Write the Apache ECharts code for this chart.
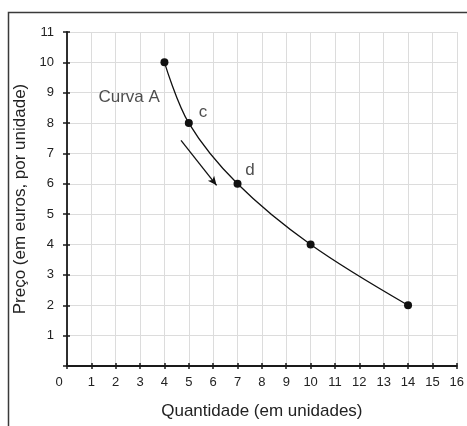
<!DOCTYPE html>
<html><head><meta charset="utf-8">
<script src="https://cdn.jsdelivr.net/npm/echarts@6/dist/echarts.min.js"></script>
<style>html,body{margin:0;padding:0;background:#fff}#c{width:467px;height:426px}</style>
</head><body><div id="c"></div>
<script>
const quantidade = [4, 5, 7, 10, 14];
const preco = [10, 8, 6, 4, 2];
const pointLabels = [
  {text: 'Curva A', x: 2.55, y: 8.85},
  {text: 'c', x: 5.58, y: 8.36},
  {text: 'd', x: 7.51, y: 6.45}
];
const arrowFrom = [4.68, 7.43];
const arrowTo = [6.14, 5.95];
const xTitle = 'Quantidade (em unidades)';
const yTitle = 'Preço (em euros, por unidade)';
const xMin = 0, xMax = 16, yMin = 0, yMax = 11;

const font = 'Liberation Sans, Arial, sans-serif';
const axisColor = '#1a1a1a';
const textColor = '#222';
const chart = echarts.init(document.getElementById('c'));
const baseX = {type: 'value', min: xMin, max: xMax, interval: 1, position: 'bottom'};
const baseY = {type: 'value', min: yMin, max: yMax, interval: 1, position: 'left'};
chart.setOption({
  animation: false,
  graphic: [{type: 'rect', shape: {x: 8.5, y: 12.5, width: 470, height: 430},
    style: {fill: 'none', stroke: '#3a3a3a', lineWidth: 1.5}, z: -1}],
  grid: {left: 67, right: 10, top: 32, bottom: 60},
  xAxis: [Object.assign({}, baseX, {
    name: xTitle, nameLocation: 'middle', nameGap: 37,
    nameTextStyle: {fontFamily: font, fontSize: 17, color: textColor},
    axisLine: {show: true, lineStyle: {color: axisColor, width: 1.8}},
    axisTick: {show: true, length: 3, lineStyle: {color: axisColor, width: 1.5}},
    axisLabel: {fontFamily: font, fontSize: 13, color: textColor, margin: 10,
      formatter: v => v === 0 ? '{z|0}' : String(v),
      rich: {z: {fontFamily: font, fontSize: 13, color: textColor, padding: [0, 16, 6, 0]}}},
    splitLine: {show: true, lineStyle: {color: '#dcdcdc', width: 1}}
  }), Object.assign({}, baseX, {
    axisLine: {show: false}, axisLabel: {show: false}, splitLine: {show: false},
    axisTick: {show: true, inside: true, length: 3, lineStyle: {color: axisColor, width: 1.5}}
  })],
  yAxis: [Object.assign({}, baseY, {
    name: yTitle, nameLocation: 'middle', nameGap: 34,
    nameTextStyle: {fontFamily: font, fontSize: 17, color: textColor},
    axisLine: {show: true, lineStyle: {color: axisColor, width: 1.8}},
    axisTick: {show: true, length: 4, lineStyle: {color: axisColor, width: 1.5}},
    axisLabel: {fontFamily: font, fontSize: 13, color: textColor, margin: 13,
      formatter: v => v === 0 ? '' : String(v)},
    splitLine: {show: true, lineStyle: {color: '#dcdcdc', width: 1}}
  }), Object.assign({}, baseY, {
    axisLine: {show: false}, axisLabel: {show: false}, splitLine: {show: false},
    axisTick: {show: true, inside: true, length: 3, lineStyle: {color: axisColor, width: 1.5}}
  })],
  series: [{
    type: 'line', smooth: 0.35, data: quantidade.map((q, i) => [q, preco[i]]),
    symbol: 'circle', symbolSize: 8,
    lineStyle: {color: '#111', width: 1.3}, itemStyle: {color: '#111'},
    markLine: {silent: true, symbol: ['none', 'arrow'], symbolSize: [6, 9],
      lineStyle: {color: '#111', width: 1.3, type: 'solid'}, label: {show: false},
      data: [[{coord: arrowFrom}, {coord: arrowTo}]]}
  }, {
    type: 'scatter', symbolSize: 0, data: pointLabels.map(p => ({value: [p.x, p.y], name: p.text})),
    label: {show: true, position: 'inside', formatter: p => p.name,
      fontFamily: font, fontSize: 17, color: textColor}
  }]
});
</script></body></html>
